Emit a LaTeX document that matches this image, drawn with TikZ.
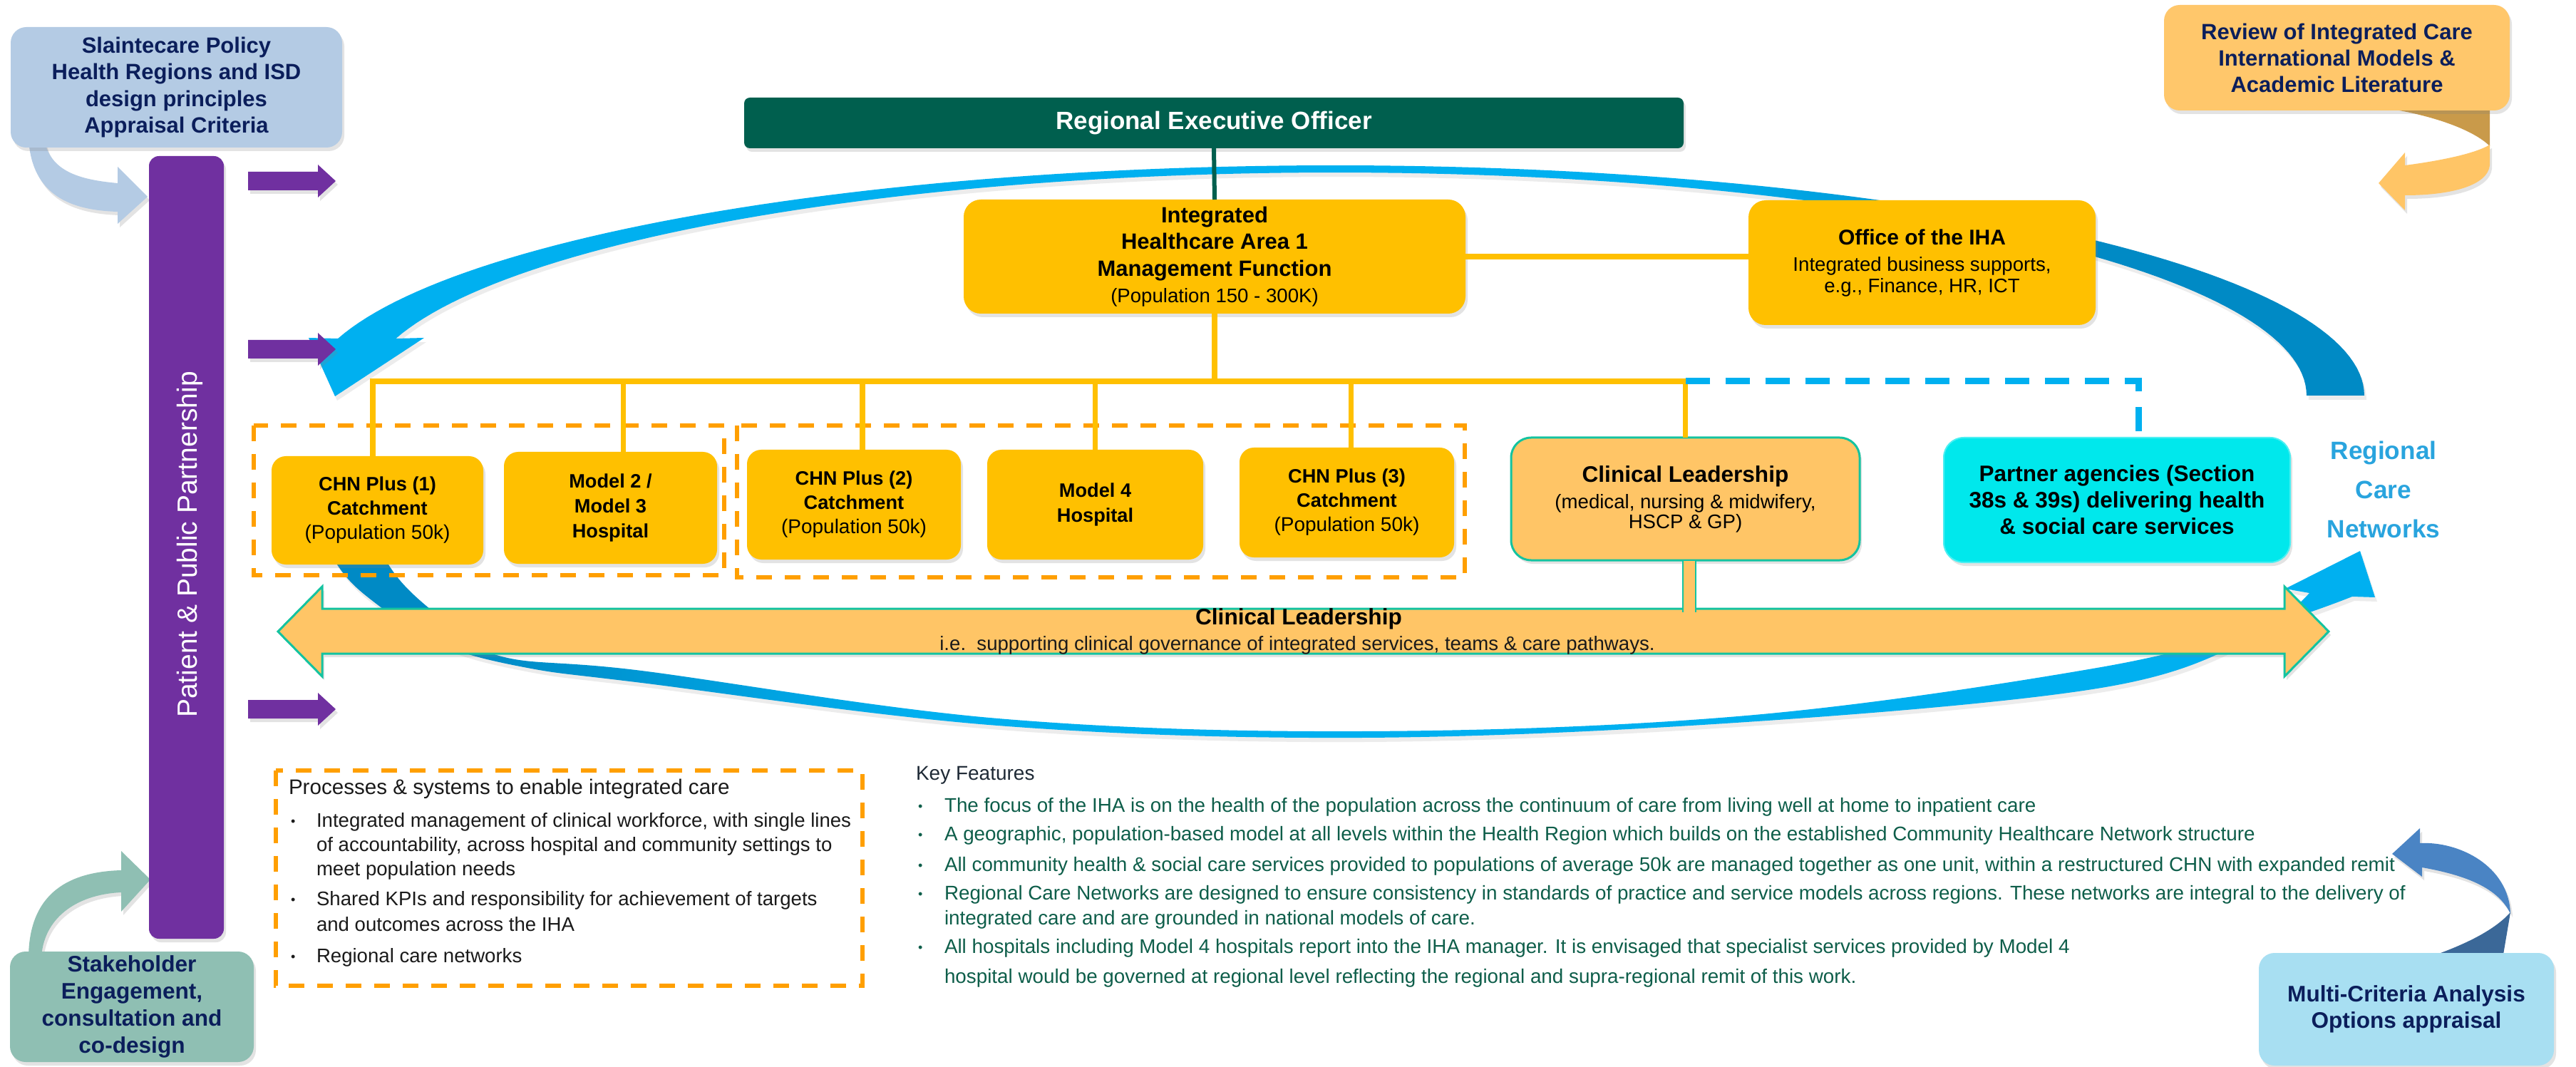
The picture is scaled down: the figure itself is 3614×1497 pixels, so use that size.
\documentclass[tikz,border=0pt]{standalone}
\usepackage{fontspec}
\setmainfont{Liberation Sans}
\usetikzlibrary{shadows,calc}
\definecolor{ygold}{HTML}{FFC000}
\definecolor{lorange}{HTML}{FFC566}
\definecolor{tealb}{HTML}{14C3A0}
\definecolor{cyanb}{HTML}{00E8EC}
\definecolor{reog}{HTML}{005F4E}
\definecolor{purp}{HTML}{7030A0}
\definecolor{slainb}{HTML}{B4CBE4}
\definecolor{stakeg}{HTML}{8FBFB3}
\definecolor{multib}{HTML}{A8DFF2}
\definecolor{reviewo}{HTML}{FFC76B}
\definecolor{navy}{HTML}{0B1E5B}
\definecolor{kfg}{HTML}{0E5E4A}
\definecolor{kft}{HTML}{1F2A36}
\definecolor{rcn}{HTML}{29A4DE}
\definecolor{skyb}{HTML}{00B0F0}
\definecolor{deepb}{HTML}{008AC5}
\definecolor{dashor}{HTML}{FF9F00}
\definecolor{marrow}{HTML}{4A84C4}
\definecolor{marrowd}{HTML}{3B6898}
\definecolor{oarrowd}{HTML}{C99A4A}
\definecolor{txtc}{HTML}{1A1A1A}
\newcommand{\myfs}[2]{\fontsize{#1}{#2}\selectfont}
\pgfdeclarehorizontalshading{toparcsh}{100bp}{color(0bp)=(skyb); color(59bp)=(skyb); color(66bp)=(deepb); color(100bp)=(deepb)}
\pgfdeclarehorizontalshading{botarcsh}{100bp}{color(0bp)=(deepb); color(29bp)=(deepb); color(40bp)=(skyb); color(100bp)=(skyb)}
\tikzset{
  every node/.style={inner sep=0pt, outer sep=0pt},
  shad/.style={drop shadow={opacity=0.22, shadow xshift=1.5pt, shadow yshift=-2.5pt}},
  ybox/.style={shape=rectangle, rounded corners=10pt, fill=ygold, align=center, text=black, shad},
  sidebox/.style={shape=rectangle, rounded corners=11pt, align=center, text=navy, shad,
    font=\bfseries\myfs{15.5pt}{18.8pt}},
  yline/.style={draw=ygold, line width=3.6pt},
  gdash/.style={draw=dashor, line width=2.7pt, dash pattern=on 11pt off 9pt},
  bdash/.style={draw=skyb, line width=4.5pt, dash pattern=on 17pt off 11pt},
  ptxt/.style={anchor=west, text=txtc, font=\myfs{13.8pt}{16pt}},
  ktxt/.style={anchor=west, text=kfg, font=\myfs{13.9pt}{16pt}},
}
\newcommand{\bul}[1]{\makebox[#1][l]{\myfs{9pt}{9pt}\raisebox{0.15ex}{•}}}
\begin{document}
\begin{tikzpicture}[x=0.5pt, y=-0.5pt]
\useasboundingbox (0,0) rectangle (3614,1497);
\fill[white] (0,0) rectangle (3614,1497);

% ---- big blue cycle arrows ----
\shade[shading=toparcsh, drop shadow={opacity=0.15, shadow xshift=1.5pt, shadow yshift=-3pt}]
  plot[domain=0:165.66, samples=120] ({1873+1444*cos(\x)},{555-323*sin(\x)})
  -- (433,474) -- (470,556) -- (595,474)
  -- plot[domain=165.19:0, samples=120] ({1873+1363*cos(\x)},{555-313*sin(\x)}) -- cycle;
\shade[shading=botarcsh, drop shadow={opacity=0.15, shadow xshift=1.5pt, shadow yshift=-3pt}]
  plot[smooth, tension=0.6] coordinates {(430,690) (473,792) (533,851) (620,905) (740,937) (900,958) (1400,1018) (1910,1035) (2450,1013) (2942,966) (3150,900) (3240,832)}
  -- (3206,826) -- (3311,773) -- (3332,838)
  -- plot[smooth, tension=0.6] coordinates {(3300,837) (3180,878) (2942,937) (2450,1004) (1910,1026) (1400,1008) (900,941) (700,920) (610,860) (545,792) (505,690)} -- cycle;

% ---- dashed groupings ----
\draw[gdash] (356,597) rectangle (1016,807);
\draw[gdash] (1034,597) rectangle (2055,810);
\draw[gdash] (387,1081) rectangle (1210,1383);

% ---- side curved arrows (drawn under their boxes) ----
\fill[slainb, shad] (40,195) .. controls (45,275) and (100,295) .. (165,297) -- (165,314) -- (207,276) -- (165,234) -- (165,257)
  .. controls (110,252) and (70,240) .. (62,195) -- cycle;
\fill[stakeg, shad] (40,1345) .. controls (40,1250) and (100,1223) .. (170,1221) -- (170,1194) -- (211,1234) -- (170,1279) -- (170,1252)
  .. controls (105,1255) and (60,1290) .. (58,1345) -- cycle;
\fill[oarrowd] (3335,145) -- (3493,145) -- (3493,205) .. controls (3470,182) and (3410,160) .. (3335,150) -- cycle;
\fill[lorange, shad] (3374,232) .. controls (3420,226) and (3472,216) .. (3493,203) -- (3493,232)
  .. controls (3490,260) and (3440,274) .. (3374,274) -- (3374,295) -- (3337,257) -- (3374,214) -- cycle;
\fill[marrowd] (3402,1345) -- (3511,1345) -- (3522,1280) .. controls (3495,1310) and (3445,1330) .. (3402,1345) -- cycle;
\fill[marrow, shad] (3395,1183) .. controls (3450,1180) and (3520,1215) .. (3522,1282)
  .. controls (3505,1246) and (3460,1228) .. (3398,1217) -- (3398,1230) -- (3356,1198) -- (3395,1162) -- cycle;

% ---- boxes ----
\node[sidebox, fill=slainb, minimum width=232.5pt, minimum height=84.5pt] (slain) at (247.5,122.5)
  {Slaintecare Policy\\Health Regions and ISD\\design principles\\Appraisal Criteria};
\node[sidebox, fill=reviewo, minimum width=242.5pt, minimum height=74pt, font=\bfseries\myfs{15.5pt}{18.5pt}] (review) at (3278.5,81)
  {Review of Integrated Care\\International Models \&\\Academic Literature};
\node[sidebox, fill=stakeg, minimum width=171pt, minimum height=77.5pt, font=\bfseries\myfs{15.8pt}{19pt}] (stake) at (185,1412.5)
  {Stakeholder\\Engagement,\\consultation and\\co-design};
\node[sidebox, fill=multib, minimum width=207pt, minimum height=79pt, font=\bfseries\myfs{15.8pt}{18.5pt}] (multi) at (3376,1416)
  {Multi-Criteria Analysis\\Options appraisal};

\node[shape=rectangle, rounded corners=4pt, fill=reog, text=white, shad, minimum width=659pt, minimum height=35.5pt,
  font=\bfseries\myfs{17.5pt}{20pt}] (reo) at (1703,172.5) {Regional Executive Officer};
\node[ybox, rounded corners=12pt, minimum width=352pt, minimum height=80pt, font=\bfseries\myfs{15.5pt}{18.75pt}] (iha) at (1704,360)
  {Integrated\\Healthcare Area 1\\Management Function\\{\mdseries\myfs{13.8pt}{16pt}(Population 150 - 300K)}};
\node[ybox, rounded corners=12pt, minimum width=243.5pt, minimum height=87.5pt, font=\bfseries\myfs{15pt}{15pt}] (office) at (2696.5,368.5)
  {Office of the IHA\\[3.5pt]{\mdseries\myfs{13.8pt}{15pt}Integrated business supports,}\\{\mdseries\myfs{13.8pt}{15pt}e.g., Finance, HR, ICT}};

\node[ybox, minimum width=148.5pt, minimum height=76pt, font=\bfseries\myfs{13.6pt}{17pt}] (chn1) at (529.5,716)
  {CHN Plus (1)\\Catchment\\{\mdseries\myfs{14pt}{17pt}(Population 50k)}};
\node[ybox, minimum width=149.5pt, minimum height=78.5pt, font=\bfseries\myfs{13.6pt}{17.5pt}] (m23) at (856.5,712.5)
  {Model 2 /\\Model 3\\Hospital};
\node[ybox, minimum width=150pt, minimum height=77pt, font=\bfseries\myfs{13.6pt}{17pt}] (chn2) at (1198,708)
  {CHN Plus (2)\\Catchment\\{\mdseries\myfs{14pt}{17pt}(Population 50k)}};
\node[ybox, minimum width=151.5pt, minimum height=77pt, font=\bfseries\myfs{13.6pt}{17.5pt}] (m4) at (1536.5,708)
  {Model 4\\Hospital};
\node[ybox, minimum width=150.5pt, minimum height=77pt, font=\bfseries\myfs{13.6pt}{17pt}] (chn3) at (1889.5,705)
  {CHN Plus (3)\\Catchment\\{\mdseries\myfs{14pt}{17pt}(Population 50k)}};
\node[ybox, fill=lorange, draw=tealb, line width=1.5pt, rounded corners=14pt, minimum width=244.5pt, minimum height=86pt,
  font=\bfseries\myfs{15.8pt}{14pt}] (cl) at (2364.5,700)
  {Clinical Leadership\\[4.5pt]{\mdseries\myfs{13.8pt}{14pt}(medical, nursing \& midwifery,}\\{\mdseries\myfs{13.8pt}{14pt}HSCP \& GP)}};
\node[ybox, fill=cyanb, draw=cyanb!70!white, line width=1pt, rounded corners=14pt, minimum width=243pt, minimum height=87.5pt,
  font=\bfseries\myfs{15.75pt}{18.5pt}] (partner) at (2970,701.5)
  {Partner agencies (Section\\38s \& 39s) delivering health\\\& social care services};

% ---- connectors ----
\coordinate (busL) at (523,535);
\coordinate (busR) at (2364.5,535);
\draw[draw=reog, line width=3pt] (reo.south) -- (iha.north);
\draw[yline] (iha.east) -- (office.west |- iha.east);
\draw[yline] (iha.south) -- (iha.south |- busL);
\draw[yline, line cap=rect] (busL) -- (busR);
\draw[yline] (busL) -- (busL |- chn1.north);
\draw[yline] ([xshift=9pt]m23.north |- busL) -- ([xshift=9pt]m23.north);
\draw[yline] ([xshift=6pt]chn2.north |- busL) -- ([xshift=6pt]chn2.north);
\draw[yline] (m4.north |- busL) -- (m4.north);
\draw[yline] ([xshift=3pt]chn3.north |- busL) -- ([xshift=3pt]chn3.north);
\draw[yline] (busR) -- (cl.north);
\draw[bdash] (busR) -| ([xshift=15pt]partner.north);

% ---- clinical leadership double arrow ----
\coordinate (armb) at (2379,858);
\filldraw[fill=lorange, draw=tealb, line width=1.5pt, shad] (390,886) -- (452,823) -- (452,854) -- (3205,854) -- (3205,823) -- (3267,886)
  -- (3205,949) -- (3205,917) -- (452,917) -- (452,949) -- cycle;
\filldraw[fill=lorange, draw=tealb, line width=1.2pt] ([xshift=-1.75pt]cl.south) rectangle (armb);
\fill[lorange] (2362,850) rectangle (2378,860);
\node[font=\bfseries\myfs{15.8pt}{18pt}, text=black] (clbar) at (1822,868) {Clinical Leadership};
\node[font=\myfs{13.8pt}{16pt}, text=txtc] (clbar2) at (1820,905) {i.e.\ \ supporting clinical governance of integrated services, teams \& care pathways.};

% ---- purple partnership bar and arrows ----
\node[shape=rectangle, rounded corners=7pt, fill=purp, shad, minimum width=52.5pt, minimum height=549pt] (ppp) at (261.5,768) {};
\node[rotate=90, text=white, font=\myfs{19.5pt}{22pt}] (pppt) at (266,764) {Patient \& Public Partnership};
\foreach \c in {254,490,995} {
  \fill[purp, shad] (348,{\c-13}) -- (446,{\c-13}) -- (446,{\c-23}) -- (471,\c) -- (446,{\c+23}) -- (446,{\c+13}) -- (348,{\c+13}) -- cycle;
}

% ---- Regional Care Networks label ----
\node[align=center, text=rcn, font=\bfseries\myfs{17.6pt}{27.5pt}] (rcnl) at (3344,687) {Regional\\Care\\Networks};

% ---- processes box text ----
\node[ptxt, font=\myfs{14.8pt}{16pt}] (p0) at (405,1107) {Processes \& systems to enable integrated care};
\node[ptxt] (p1) at (408,1153) {\bul{18pt}Integrated management of clinical workforce, with single lines};
\node[ptxt] (p2) at (444,1187) {of accountability, across hospital and community settings to};
\node[ptxt] (p3) at (444,1221) {meet population needs};
\node[ptxt] (p4) at (408,1263) {\bul{18pt}Shared KPIs and responsibility for achievement of targets};
\node[ptxt] (p5) at (444,1297) {and outcomes across the IHA};
\node[ptxt] (p6) at (408,1343) {\bul{18pt}Regional care networks};

% ---- key features ----
\node[anchor=west, text=kft, font=\myfs{14pt}{16pt}] (k0) at (1285,1088) {Key Features};
\node[ktxt] (k1) at (1288,1132) {\bul{18.5pt}The focus of the IHA is on the health of the population across the continuum of care from living well at home to inpatient care};
\node[ktxt] (k2) at (1288,1172) {\bul{18.5pt}A geographic, population-based model at all levels within the Health Region which builds on the established Community Healthcare Network structure};
\node[ktxt] (k3) at (1288,1215) {\bul{18.5pt}All community health \& social care services provided to populations of average 50k are managed together as one unit, within a restructured CHN with expanded remit};
\node[ktxt] (k4) at (1288,1255) {\bul{18.5pt}Regional Care Networks are designed to ensure consistency in standards of practice and service models across regions. These networks are integral to the delivery of};
\node[ktxt] (k5) at (1325,1290) {integrated care and are grounded in national models of care.};
\node[ktxt] (k6) at (1288,1330) {\bul{18.5pt}All hospitals including Model 4 hospitals report into the IHA manager. It is envisaged that specialist services provided by Model 4};
\node[ktxt] (k7) at (1325,1372) {hospital would be governed at regional level reflecting the regional and supra-regional remit of this work.};
\end{tikzpicture}
\end{document}
